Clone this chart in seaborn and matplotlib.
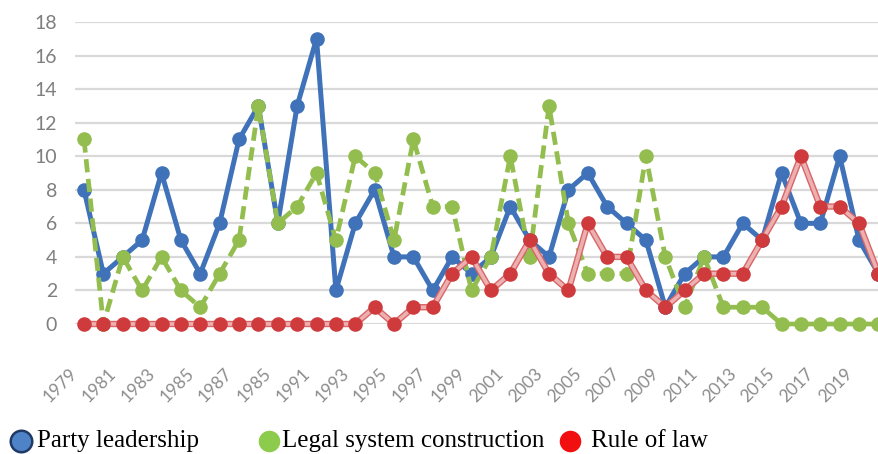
import matplotlib
matplotlib.use("Agg")
import matplotlib.pyplot as plt
import matplotlib.patheffects as pe
from matplotlib.lines import Line2D
from matplotlib.transforms import ScaledTranslation
import pandas as pd
import seaborn as sns

# data, one value per year 1979-2020
years = list(range(1979, 2021))
party = [8, 3, 4, 5, 9, 5, 3, 6, 11, 13,
         6, 13, 17, 2, 6, 8, 4, 4, 2, 4,
         3, 4, 7, 5, 4, 8, 9, 7, 6, 5,
         1, 3, 4, 4, 6, 5, 9, 6, 6, 10,
         5, 3]
legal = [11, 0, 4, 2, 4, 2, 1, 3, 5, 13,
         6, 7, 9, 5, 10, 9, 5, 11, 7, 7,
         2, 4, 10, 4, 13, 6, 3, 3, 3, 10,
         4, 1, 4, 1, 1, 1, 0, 0, 0, 0,
         0, 0]
rule = [0, 0, 0, 0, 0, 0, 0, 0, 0, 0,
        0, 0, 0, 0, 0, 1, 0, 1, 1, 3,
        4, 2, 3, 5, 3, 2, 6, 4, 4, 2,
        1, 2, 3, 3, 3, 5, 7, 10, 7, 7,
        6, 3]
tick_years = list(range(1979, 2020, 2))
tick_labels = ["1979", "1981", "1983", "1985", "1987", "1985", "1991", "1993",
               "1995", "1997", "1999", "2001", "2003", "2005", "2007", "2009",
               "2011", "2013", "2015", "2017", "2019"]
series_names = ["Party leadership", "Legal system construction", "Rule of law"]

df = pd.DataFrame({"year": years, "party": party, "legal": legal, "rule": rule})

sns.set_style("white")
plt.rcParams["font.family"] = ["Lato", "DejaVu Sans"]

fig = plt.figure(figsize=(8.79, 4.54), dpi=100)
ax = fig.add_axes([75 / 879, 130 / 454, 804 / 879, 302 / 454])

blue = "#3F72B9"
green = "#93BE4F"
red = "#CF3A3C"

sns.lineplot(data=df, x="year", y="party", ax=ax, color=blue, lw=3.6,
             marker="o", markersize=10.5, markeredgewidth=0, zorder=3, clip_on=False)
sns.lineplot(data=df, x="year", y="legal", ax=ax, color=green, lw=3.4,
             linestyle=(0, (2.8, 1.4)), marker="o", markersize=10.5,
             markeredgewidth=0, zorder=4, clip_on=False)
# rule of law: pale line with a red rim, solid red dots on top
sns.lineplot(data=df, x="year", y="rule", ax=ax, color="#EDB0B0", lw=2.6,
             zorder=5, clip_on=False,
             path_effects=[pe.Stroke(linewidth=4.6, foreground="#D86567"), pe.Normal()])
sns.scatterplot(data=df, x="year", y="rule", ax=ax, color=red, s=110,
                linewidth=0, zorder=6, clip_on=False)

ax.set_xlim(1978.535, 2020.03)
ax.set_ylim(0, 18)
ax.set_yticks(range(0, 19, 2))
ax.yaxis.grid(True, color="#D9D9D9", lw=1.6)
ax.xaxis.grid(False)
ax.set_axisbelow(True)
for s in ax.spines.values():
    s.set_visible(False)
ax.set_xlabel("")
ax.set_ylabel("")

ax.tick_params(axis="y", length=0, pad=13, labelsize=14, labelcolor="#7F7F7F")
ax.tick_params(axis="x", length=0, pad=34, labelsize=12.5, labelcolor="#8C8C8C")
ax.set_xticks(tick_years)
ax.set_xticklabels(tick_labels, rotation=45, ha="right", va="center",
                   rotation_mode="anchor")
shift = ScaledTranslation(-9 / 100, 0, fig.dpi_scale_trans)
for lab in ax.get_xticklabels():
    lab.set_transform(lab.get_transform() + shift)

# legend row at the bottom, placed item by item
leg_y = 1 - 441 / 454
leg_items = [
    (21, 37, "#4F83C7", "#1F3A66", 1.8),
    (269, 282, "#8DCB4C", "#8DCB4C", 0),
    (570, 591, "#F20F0F", "#F20F0F", 0),
]
for (mx, tx, fc, ec, ew), name in zip(leg_items, series_names):
    fig.add_artist(Line2D([mx / 879], [leg_y], ls="", marker="o", markersize=15.5,
                          markerfacecolor=fc, markeredgecolor=ec,
                          markeredgewidth=ew, transform=fig.transFigure))
    fig.text(tx / 879, leg_y, name, ha="left", va="center",
             family="Liberation Serif", fontsize=18, color="black")

fig.savefig("out.png", dpi=100)
